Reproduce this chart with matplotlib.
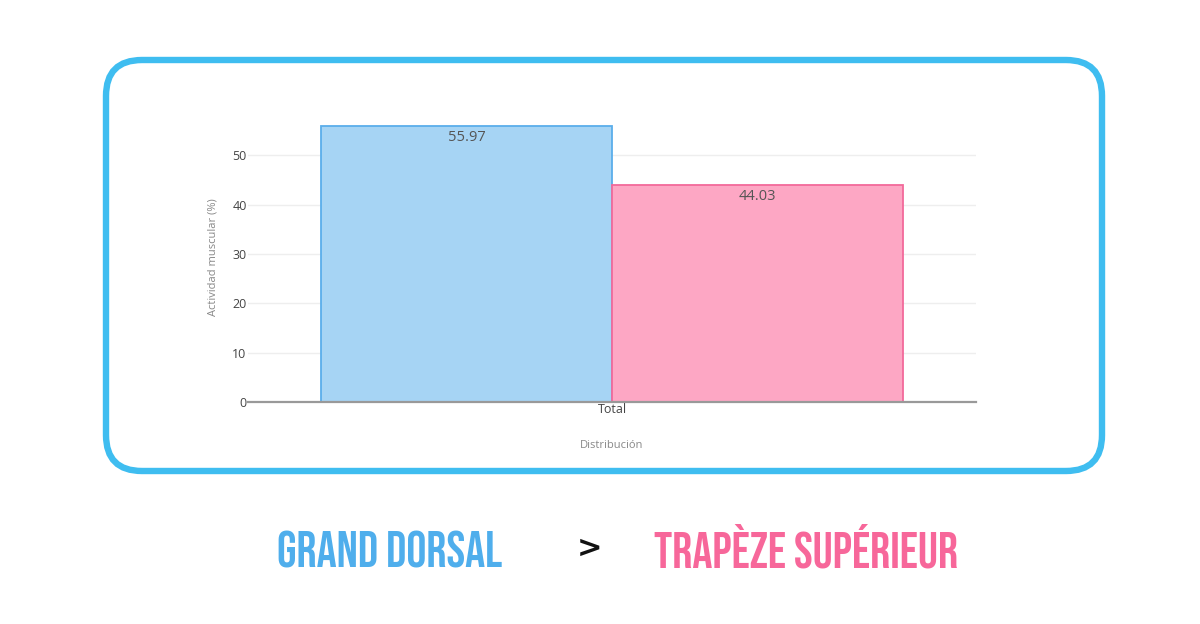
import matplotlib
matplotlib.use("Agg")
import matplotlib.pyplot as plt
from matplotlib import font_manager
from matplotlib.patches import FancyBboxPatch

# Data
categories = ["Total"]
muscles = ["Grand dorsal", "Trapèze supérieur"]
values = [55.97, 44.03]
fill_colors = ["#A6D4F4", "#FDA7C4"]
edge_colors = ["#5AAEEB", "#F2699A"]
y_ticks = [0, 10, 20, 30, 40, 50]
headline = ["GRAND DORSAL", ">", "TRAPÈZE SUPÉRIEUR"]
headline_colors = ["#4FAEEC", "#111111", "#F7679A"]

W, H = 1200, 624
fig = plt.figure(figsize=(W / 100, H / 100), dpi=100)
fig.patch.set_facecolor("white")
plt.rcParams["font.family"] = ["Open Sans", "DejaVu Sans"]

# Pick the narrowest display face that is installed
installed = {f.name for f in font_manager.fontManager.ttflist}
narrow_candidates = ["Bebas Neue", "Oswald", "Roboto Condensed",
                     "Open Sans Condensed", "Liberation Sans Narrow",
                     "DejaVu Sans Condensed", "Roboto"]
head_family = next((f for f in narrow_candidates if f in installed), "DejaVu Sans")

# Background layer in pixel coordinates: rounded frame + headline
bg = fig.add_axes([0, 0, 1, 1], zorder=0)
bg.set_xlim(0, W)
bg.set_ylim(H, 0)
bg.axis("off")
frame = FancyBboxPatch((106, 60), 996, 411,
                       boxstyle="round,pad=0,rounding_size=36",
                       facecolor="white", edgecolor="#3FBDF0", linewidth=4.6)
bg.add_patch(frame)

# Headline
bg.text(390, 567, headline[0], color=headline_colors[0], ha="center",
        va="baseline", fontsize=36, family=head_family)
bg.text(590, 557, headline[1], color=headline_colors[1], ha="center",
        va="baseline", fontsize=22, fontweight="bold", family="DejaVu Sans")
bg.text(806, 567, headline[2], color=headline_colors[2], ha="center",
        va="baseline", fontsize=36, family=head_family)

# Bar chart
ax = fig.add_axes([248 / W, 1 - 402 / H, 728 / W, 290 / H], zorder=1)
ax.set_facecolor("none")
n = len(muscles)
group_width = 0.8
bw = group_width / n
for i, (name, v) in enumerate(zip(muscles, values)):
    x = -group_width / 2 + bw * (i + 0.5)
    ax.bar(x, v, width=bw, color=fill_colors[i], edgecolor=edge_colors[i],
           linewidth=1.3, zorder=2)
    ax.text(x, v - 0.8, f"{v:.2f}", ha="center", va="top",
            fontsize=10.5, color="#555555", zorder=3)

ax.set_xlim(-0.5, 0.5)
ax.set_ylim(0, 58.8)
ax.set_yticks(y_ticks)
ax.set_yticklabels([str(t) for t in y_ticks])
ax.set_xticks([0])
ax.set_xticklabels(categories)
ax.grid(axis="y", color="#EEEEEE", linewidth=1, zorder=0)
ax.set_axisbelow(True)
for s in ["top", "right", "left"]:
    ax.spines[s].set_visible(False)
ax.spines["bottom"].set_color("#999999")
ax.spines["bottom"].set_linewidth(1.6)
ax.spines["bottom"].set_zorder(4)
ax.tick_params(axis="both", length=0, labelsize=9, labelcolor="#444444")
ax.tick_params(axis="y", pad=1)
ax.tick_params(axis="x", pad=1)
ax.set_ylabel("Actividad muscular (%)", fontsize=8, color="#888888", labelpad=10)
ax.set_xlabel("Distribución", fontsize=8, color="#888888", labelpad=17)

fig.savefig("out.png", dpi=100, facecolor="white")
